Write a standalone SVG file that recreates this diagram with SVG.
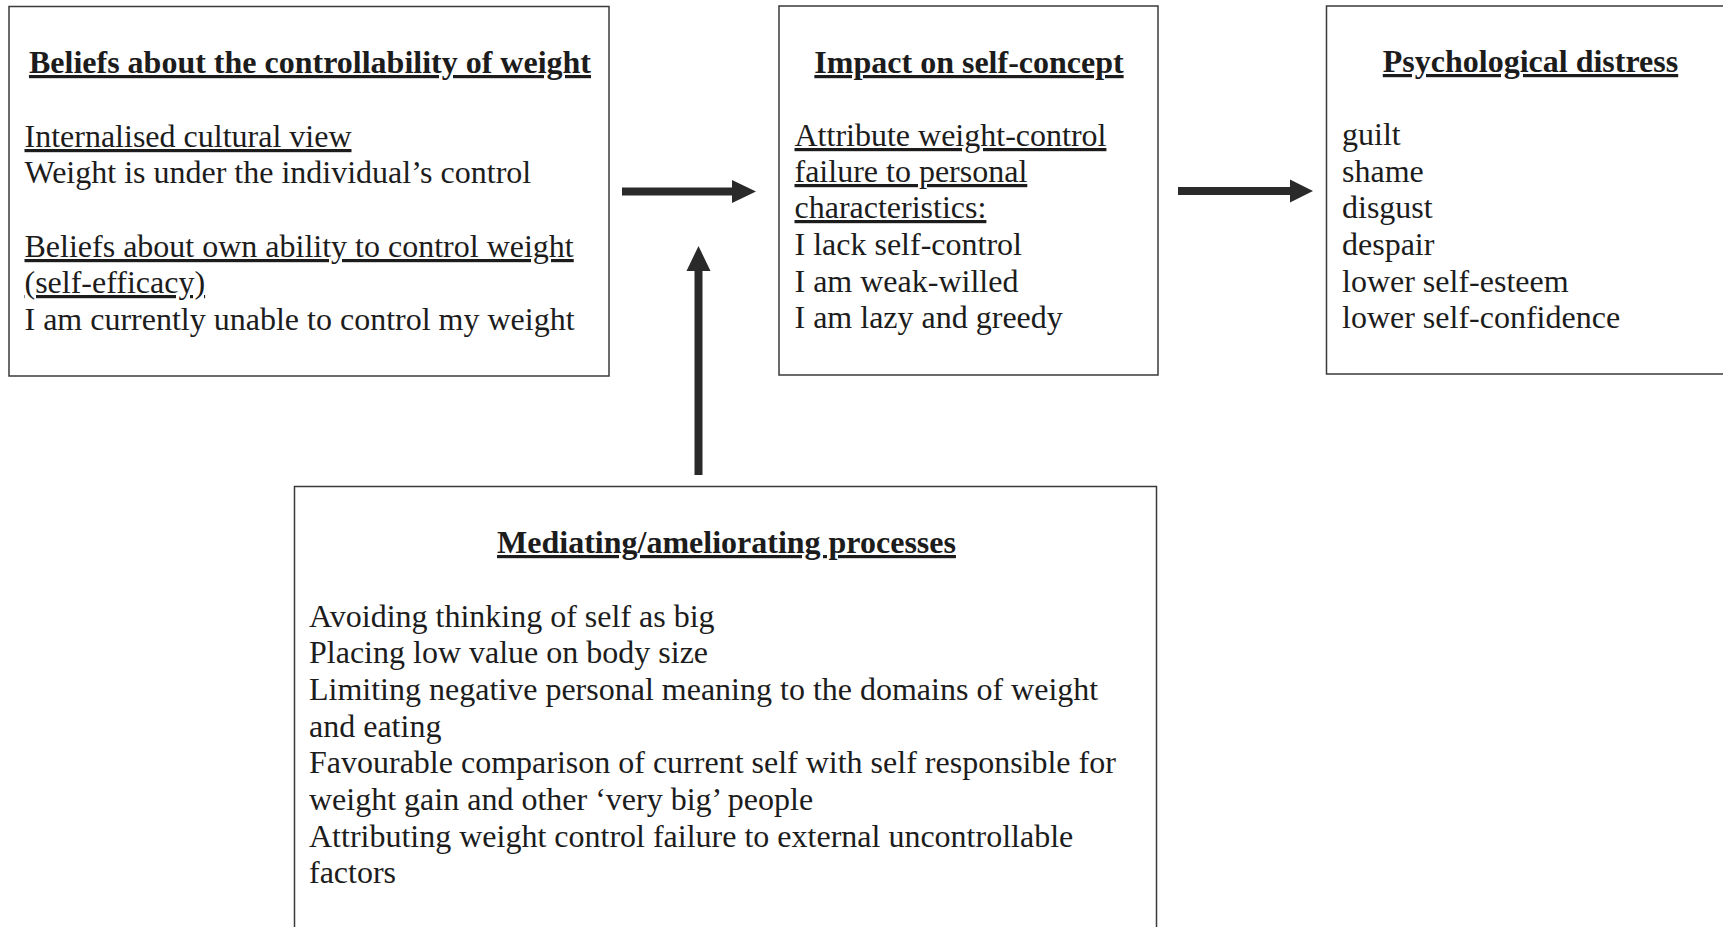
<svg xmlns="http://www.w3.org/2000/svg" width="1723" height="927" viewBox="0 0 1723 927">
  <style>
    .box { fill: #ffffff; stroke: #3a3a3a; stroke-width: 1.5; }
    text { font-family: "Liberation Serif", "Times New Roman", serif; font-size: 32px; fill: #1c1c1c; }
    .title { font-weight: bold; text-anchor: middle; text-decoration: underline; text-decoration-skip-ink: none; }
    .u { text-decoration: underline; text-decoration-skip-ink: none; }
    .arrow { fill: #2a2a2a; }
  </style>
  <rect x="0" y="0" width="1723" height="927" fill="#ffffff"/>

  <g id="node-beliefs">
    <rect class="box" x="9" y="6.5" width="600" height="369.5"/>
    <text class="title" x="310" y="73">Beliefs about the controllability of weight</text>
    <text class="u" x="24.5" y="147">Internalised cultural view</text>
    <text x="24.5" y="183">Weight is under the individual’s control</text>
    <text class="u" x="24.5" y="257">Beliefs about own ability to control weight</text>
    <text class="u" x="24.5" y="293">(self-efficacy)</text>
    <text x="24.5" y="330">I am currently unable to control my weight</text>
  </g>

  <g id="node-impact">
    <rect class="box" x="779" y="6" width="379" height="369"/>
    <text class="title" x="969" y="73">Impact on self-concept</text>
    <text class="u" x="794.5" y="146">Attribute weight-control</text>
    <text class="u" x="794.5" y="182">failure to personal</text>
    <text class="u" x="794.5" y="218">characteristics:</text>
    <text x="794.5" y="255">I lack self-control</text>
    <text x="794.5" y="292">I am weak-willed</text>
    <text x="794.5" y="328">I am lazy and greedy</text>
  </g>

  <g id="node-distress">
    <rect class="box" x="1326.5" y="6" width="420" height="368"/>
    <text class="title" x="1530.5" y="72">Psychological distress</text>
    <text x="1342" y="145">guilt</text>
    <text x="1342" y="182">shame</text>
    <text x="1342" y="218">disgust</text>
    <text x="1342" y="255">despair</text>
    <text x="1342" y="292">lower self-esteem</text>
    <text x="1342" y="328">lower self-confidence</text>
  </g>

  <g id="node-mediating">
    <rect class="box" x="294.5" y="486.5" width="862" height="470"/>
    <text class="title" x="726.5" y="553">Mediating/ameliorating processes</text>
    <text x="309" y="627">Avoiding thinking of self as big</text>
    <text x="309" y="663">Placing low value on body size</text>
    <text x="309" y="700">Limiting negative personal meaning to the domains of weight</text>
    <text x="309" y="737">and eating</text>
    <text x="309" y="773">Favourable comparison of current self with self responsible for</text>
    <text x="309" y="810">weight gain and other ‘very big’ people</text>
    <text x="309" y="847">Attributing weight control failure to external uncontrollable</text>
    <text x="309" y="883">factors</text>
  </g>

  <g id="connectors">
    <path class="arrow" d="M622,187.5 H732 V180 L756,191.5 L732,203 V195.5 H622 Z"/>
    <path class="arrow" d="M1178,187 H1290 V179.5 L1313,191 L1290,202.5 V195 H1178 Z"/>
    <path class="arrow" d="M694.5,475 V271 H686.5 L698.5,246 L710.5,271 H702.5 V475 Z"/>
  </g>
</svg>
